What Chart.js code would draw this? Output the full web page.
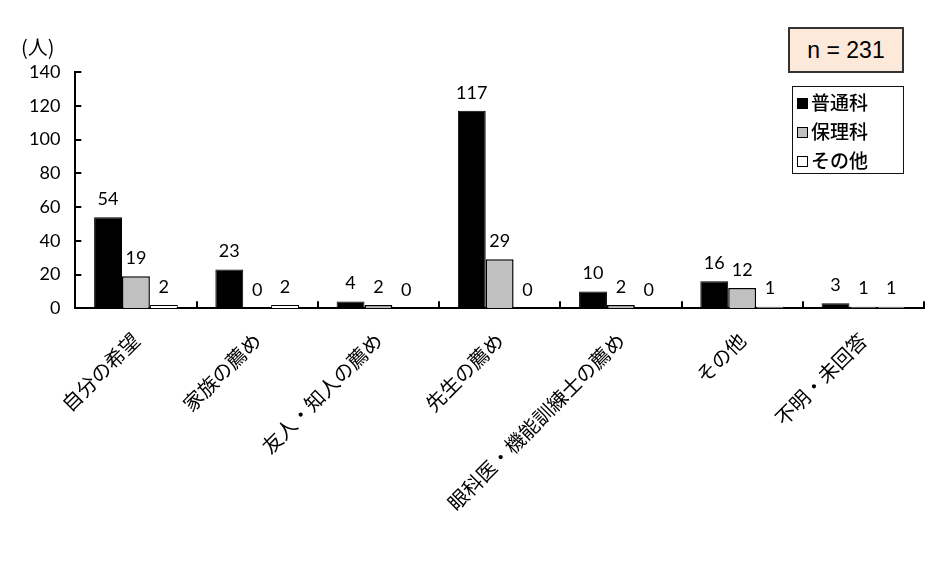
<!DOCTYPE html>
<html>
<head>
<meta charset="utf-8">
<script src="https://cdn.jsdelivr.net/npm/chart.js@4"></script>
<style>
  body { margin: 0; background: #fff; }
  #wrap { position: relative; width: 947px; height: 577px; }
  #nbox {
    position: absolute; left: 788px; top: 27px; width: 112px; height: 42px;
    background: #fde9d9; border: 2px solid #333;
    font-family: "Liberation Sans Narrow", "Liberation Sans", sans-serif; font-size: 23px;
    line-height: 42px; text-align: center; color: #000;
  }
  #legend {
    position: absolute; left: 792px; top: 86px; width: 110px; height: 86px;
    border: 1.5px solid #111; font-family: "Noto Sans CJK JP", sans-serif; font-size: 19px; font-weight: 500; color: #000;
  }
  #legend div { position: absolute; left: 4px; height: 26px; line-height: 26px; }
  #legend span.sq { display: inline-block; width: 9px; height: 9px; border: 1px solid #000; margin-right: 3px; vertical-align: 1px; }
</style>
</head>
<body>
<div id="wrap">
  <canvas id="grafico"></canvas>
  <div id="nbox">n = 231</div>
  <div id="legend"></div>
</div>
<script>
const categorias = ["自分の希望", "家族の薦め", "友人・知人の薦め", "先生の薦め", "眼科医・機能訓練士の薦め", "その他", "不明・未回答"];
const futsuka = [54, 23, 4, 117, 10, 16, 3];   // 普通科
const horika = [19, 0, 2, 29, 2, 12, 1];       // 保理科
const sonota = [2, 2, 0, 0, 0, 1, 1];          // その他
const seriesNames = ["普通科", "保理科", "その他"];
const yTicks = [0, 20, 40, 60, 80, 100, 120, 140];

const colores = ["#000000", "#c0c0c0", "#ffffff"];

// leyenda en HTML (recuadro a la derecha)
const leg = document.getElementById("legend");
seriesNames.forEach((n, i) => {
  const d = document.createElement("div");
  d.style.top = (2 + i * 29) + "px";
  d.innerHTML = '<span class="sq" style="background:' + colores[i] + '"></span>' + n;
  leg.appendChild(d);
});

const etiquetas = {
  id: "etiquetas",
  afterDatasetsDraw(chart) {
    const ctx = chart.ctx;
    ctx.save();
    ctx.fillStyle = "#000";
    ctx.font = "18px Lato, sans-serif";
    ctx.textAlign = "center";
    ctx.textBaseline = "middle";
    chart.data.datasets.forEach((ds, i) => {
      chart.getDatasetMeta(i).data.forEach((bar, j) => {
        ctx.fillText(ds.data[j], bar.x, bar.y - 18);
      });
    });
    // marcas hacia dentro
    const a = chart.chartArea, x = chart.scales.x, y = chart.scales.y;
    ctx.strokeStyle = "#000";
    ctx.lineWidth = 2;
    ctx.beginPath();
    yTicks.forEach(v => {
      const py = Math.round(y.getPixelForValue(v));
      ctx.moveTo(a.left, py); ctx.lineTo(a.left + 6, py);
    });
    const w = (a.right - a.left) / categorias.length;
    for (let i = 1; i <= categorias.length; i++) {
      const px = Math.round(a.left + i * w);
      ctx.moveTo(px, a.bottom); ctx.lineTo(px, a.bottom - 7);
    }
    ctx.stroke();
    ctx.font = "20px 'Noto Sans CJK JP', sans-serif";
    ctx.textAlign = "left";
    ctx.fillText("(人)", 21, a.top - 25);
    ctx.restore();
  }
};

new Chart(document.getElementById("grafico"), {
  type: "bar",
  data: {
    labels: categorias,
    datasets: [
      { label: seriesNames[0], data: futsuka, backgroundColor: colores[0], borderColor: "#000", borderWidth: 1 },
      { label: seriesNames[1], data: horika, backgroundColor: colores[1], borderColor: "#000", borderWidth: 1.5 },
      { label: seriesNames[2], data: sonota, backgroundColor: colores[2], borderColor: "#000", borderWidth: 1 }
    ]
  },
  options: {
    responsive: true,
    maintainAspectRatio: false,
    animation: false,
    layout: { padding: { left: 14, right: 23, top: 72, bottom: 42 } },
    datasets: { bar: { categoryPercentage: 0.69, barPercentage: 1 } },
    scales: {
      x: {
        grid: { display: false, drawTicks: false },
        border: { color: "#000", width: 2 },
        ticks: {
          color: "#000", maxRotation: 45, minRotation: 45, padding: 20,
          font: { family: "'Noto Sans CJK JP', sans-serif", size: 20 }
        }
      },
      y: {
        min: 0, max: 140,
        grid: { display: false, drawTicks: false },
        border: { color: "#000", width: 2 },
        afterBuildTicks: s => { s.ticks = yTicks.map(v => ({ value: v })); },
        ticks: {
          color: "#000", padding: 15,
          font: { family: "Lato, sans-serif", size: 18 }
        }
      }
    },
    plugins: {
      legend: { display: false },
      tooltip: { enabled: false }
    }
  },
  plugins: [etiquetas]
});
</script>
</body>
</html>
